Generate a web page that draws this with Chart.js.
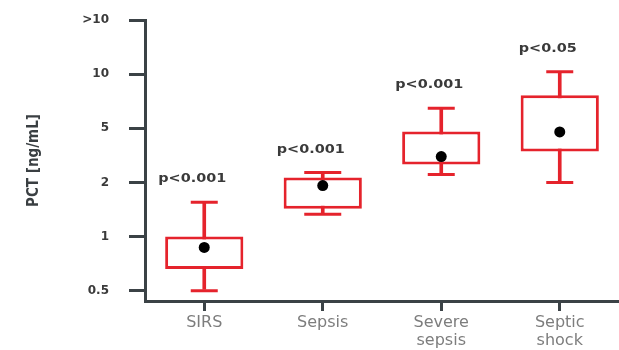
<!DOCTYPE html>
<html>
<head>
<meta charset="utf-8">
<script src="https://cdn.jsdelivr.net/npm/chart.js@4/dist/chart.umd.min.js"></script>
<style>
  html, body { margin: 0; padding: 0; background: #fff; overflow: hidden; }
  canvas { display: block; }
</style>
</head>
<body>
<canvas id="pctChart" width="619" height="350"></canvas>
<script>
// Groups on the x axis
const categories = ['SIRS', 'Sepsis', ['Severe', 'sepsis'], ['Septic', 'shock']];

// PCT values (ng/mL)
const whiskerLow  = [0.5, 1.33, 2.29, 2.0];
const boxLow      = [0.66, 1.43, 2.71, 3.37];
const medians     = [0.87, 1.92, 3.1, 4.7];
const boxHigh     = [1.0, 2.17, 4.73, 7.63];
const whiskerHigh = [1.55, 2.37, 6.46, 10.3];
const pLabels     = ['p<0.001', 'p<0.001', 'p<0.001', 'p<0.05'];

// The y axis is evenly spaced between these tick values
const tickValues = [0.5, 1, 2, 5, 10, 20];
const tickLabels = ['0.5', '1', '2', '5', '10', '>10'];

const RED = '#e5232c';
const AXIS = '#3b4246';

// map a PCT value onto the evenly spaced tick index
function pos(v) {
    let i = 0;
    while (i < tickValues.length - 2 && v > tickValues[i + 1]) i++;
    const a = tickValues[i], b = tickValues[i + 1];
    return i + Math.log(v / a) / Math.log(b / a);
}

// p-value text above each top whisker
const pLabelPlugin = {
    id: 'pLabels',
    afterDatasetsDraw(chart) {
        const { ctx, scales: { x, y } } = chart;
        ctx.save();
        ctx.font = 'bold 12px "DejaVu Sans"';
        ctx.fillStyle = '#3a3a3a';
        ctx.textAlign = 'center';
        ctx.textBaseline = 'middle';
        pLabels.forEach((txt, i) => {
            const px = x.getPixelForValue(i) - 12;
            const py = y.getPixelForValue(pos(whiskerHigh[i])) - 23;
            ctx.save();
            ctx.translate(px, py);
            ctx.scale(1.2, 1);
            ctx.fillText(txt, 0, 0);
            ctx.restore();
        });
        ctx.restore();
    }
};

const chart = new Chart(document.getElementById('pctChart'), {
    type: 'bar',
    data: {
        labels: categories,
        datasets: [{
            // medians
            type: 'line',
            data: medians.map(pos),
            showLine: false,
            pointStyle: 'circle',
            pointRadius: 5.5,
            pointBackgroundColor: '#000',
            pointBorderWidth: 0
        }, {
            // boxes
            data: boxLow.map((lo, i) => [pos(lo), pos(boxHigh[i])]),
            backgroundColor: '#fff',
            borderColor: RED,
            borderWidth: 3,
            borderSkipped: false,
            grouped: false,
            barPercentage: 0.66,
            categoryPercentage: 1
        }, {
            // whisker stems
            data: whiskerLow.map((lo, i) => [pos(lo), pos(whiskerHigh[i])]),
            backgroundColor: RED,
            borderWidth: 0,
            grouped: false,
            barThickness: 3
        }, {
            // top caps
            type: 'line',
            data: whiskerHigh.map(pos),
            showLine: false,
            pointStyle: 'line',
            pointRadius: [13.5, 18.5, 13.5, 13.5],
            pointBorderColor: RED,
            pointBorderWidth: 3
        }, {
            // bottom caps
            type: 'line',
            data: whiskerLow.map(pos),
            showLine: false,
            pointStyle: 'line',
            pointRadius: [13.5, 18.5, 13.5, 13.5],
            pointBorderColor: RED,
            pointBorderWidth: 3
        }]
    },
    options: {
        responsive: false,
        animation: false,
        layout: { autoPadding: false, padding: { left: 25, top: 20, right: 0, bottom: 0 } },
        plugins: {
            legend: { display: false },
            tooltip: { enabled: false }
        },
        scales: {
            x: {
                afterFit: s => { s.height = 49; s.paddingLeft = 0; s.paddingRight = 0; },
                grid: { offset: false, drawOnChartArea: false, drawTicks: true, tickLength: 10, lineWidth: 3, color: AXIS },
                border: { display: true, width: 3, color: AXIS },
                ticks: {
                    color: '#7d7d7d',
                    padding: 3,
                    font: { family: '"DejaVu Sans"', size: 16, lineHeight: '18px' }
                }
            },
            y: {
                min: -0.19,
                max: 5,
                afterFit: s => { s.width = 120; s.paddingTop = 0; s.paddingBottom = 0; },
                afterBuildTicks: s => { s.ticks = tickLabels.map((t, i) => ({ value: i })); },
                grid: { drawOnChartArea: false, drawTicks: true, tickLength: 16, lineWidth: 3, color: AXIS },
                border: { display: true, width: 3, color: AXIS },
                ticks: {
                    color: '#3a3a3a',
                    padding: 20,
                    font: { family: '"DejaVu Sans"', size: 12, weight: 'bold' },
                    callback: (v, i) => tickLabels[i]
                },
                title: {
                    display: true,
                    text: 'PCT [ng/mL]',
                    color: '#3a3f42',
                    padding: 0,
                    font: { family: '"DejaVu Sans Condensed"', size: 15, weight: 'bold' }
                }
            }
        }
    },
    plugins: [pLabelPlugin]
});
</script>
</body>
</html>
